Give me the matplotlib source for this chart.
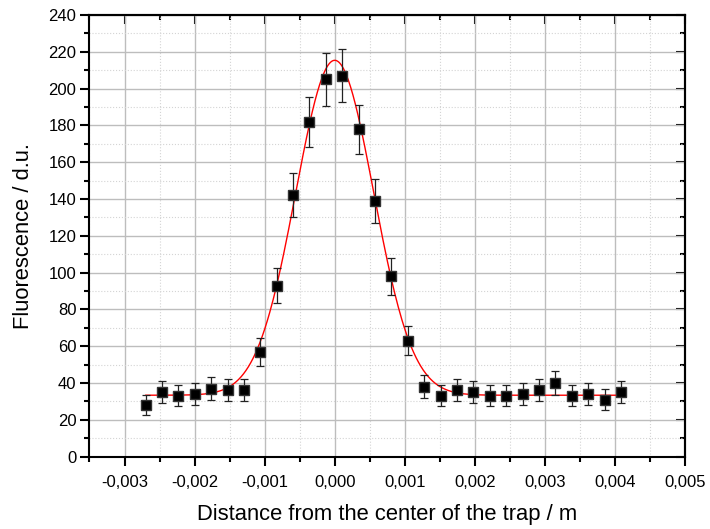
import numpy as np
import matplotlib
matplotlib.use("Agg")
import matplotlib.pyplot as plt
from matplotlib.ticker import MultipleLocator, FuncFormatter

# measured points (distance / m, fluorescence / d.u.)
dist = [-0.002696, -0.002468, -0.002231, -0.001997, -0.001760, -0.001526,
        -0.001298, -0.001061, -0.000827, -0.000599, -0.000362, -0.000124,
        0.000109, 0.000342, 0.000575, 0.000803, 0.001041, 0.001279,
        0.001512, 0.001745, 0.001977, 0.002211, 0.002444, 0.002681,
        0.002914, 0.003147, 0.003381, 0.003618, 0.003852, 0.004084]
fluo = [28, 35, 33, 34, 37, 36, 36, 57, 93, 142, 182, 205, 207, 178, 139,
        98, 63, 38, 33, 36, 35, 33, 33, 34, 36, 40, 33, 34, 31, 35]
err = [5.3, 5.9, 5.7, 5.8, 6.1, 6.0, 6.0, 7.5, 9.6, 11.9, 13.5, 14.3, 14.4,
       13.3, 11.8, 9.9, 7.9, 6.2, 5.7, 6.0, 5.9, 5.7, 5.7, 5.8, 6.0, 6.3,
       5.7, 5.8, 5.6, 5.9]

# gaussian fit parameters
y0 = 33.4
amp = 182.0
xc = 0.0
sigma = 0.000555

plt.rcParams['font.family'] = ['Liberation Sans', 'DejaVu Sans']

fig = plt.figure(figsize=(7.10, 5.29), dpi=100)
ax = fig.add_axes([0.126, 0.1367, 0.839, 0.8349])

xfit = np.linspace(min(dist), max(dist), 400)
yfit = y0 + amp * np.exp(-(xfit - xc) ** 2 / (2 * sigma ** 2))
ax.plot(xfit, yfit, color='red', lw=1.0, zorder=3)

ax.errorbar(dist, fluo, yerr=err, fmt='s', color='black', ms=7,
            mec='#333333', ecolor='#222222', elinewidth=0.9, capsize=3.2,
            capthick=0.9, zorder=4)

ax.set_xlim(-0.0035, 0.005)
ax.set_ylim(0, 240)
ax.xaxis.set_major_locator(MultipleLocator(0.001))
ax.xaxis.set_minor_locator(MultipleLocator(0.0005))
ax.yaxis.set_major_locator(MultipleLocator(20))
ax.yaxis.set_minor_locator(MultipleLocator(10))
ax.xaxis.set_major_formatter(FuncFormatter(
    lambda v, p: ('%.3f' % (0 if abs(v) < 1e-9 else v)).replace('.', ',')))

ax.grid(which='major', color='#bdbdbd', lw=1.0, ls='-', zorder=0)
ax.grid(which='minor', color='#d4d4d4', lw=0.8, ls=':', zorder=0)
ax.set_axisbelow(True)

for s in ax.spines.values():
    s.set_linewidth(1.5)

ax.tick_params(which='both', direction='out', width=1.5, labelsize=12,
               colors='black')
ax.tick_params(which='major', length=6.5, pad=3)
ax.tick_params(which='minor', length=3.4)
ax.tick_params(axis='x', which='major', pad=7)

# inward ticks on top and right
ax2 = ax.secondary_xaxis('top')
ax2.xaxis.set_major_locator(MultipleLocator(0.001))
ax2.xaxis.set_minor_locator(MultipleLocator(0.0005))
ax2.tick_params(which='both', direction='in', width=1.5, labeltop=False)
ax2.tick_params(which='major', length=6.5)
ax2.tick_params(which='minor', length=3.4)
ax2.spines['top'].set_linewidth(1.5)
ay2 = ax.secondary_yaxis('right')
ay2.yaxis.set_major_locator(MultipleLocator(20))
ay2.yaxis.set_minor_locator(MultipleLocator(10))
ay2.tick_params(which='both', direction='in', width=1.5, labelright=False)
ay2.tick_params(which='major', length=6.5)
ay2.tick_params(which='minor', length=3.4)
ay2.spines['right'].set_linewidth(1.5)

ax.set_xlabel('Distance from the center of the trap / m', fontsize=15.8,
              labelpad=10)
ax.set_ylabel('Fluorescence / d.u.', fontsize=15.8, labelpad=10)

fig.savefig('out.png', dpi=100)
